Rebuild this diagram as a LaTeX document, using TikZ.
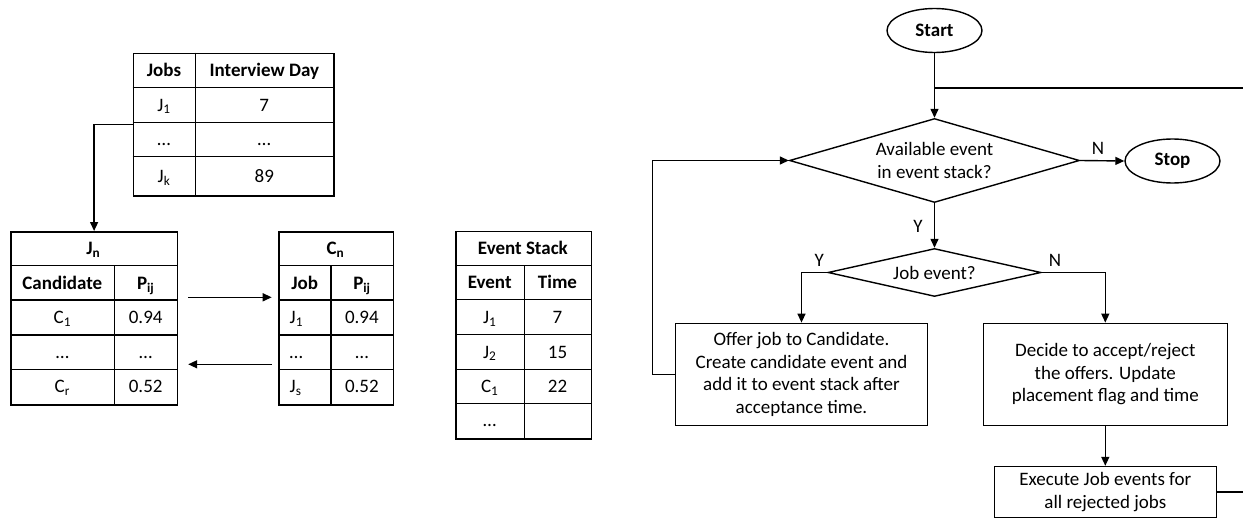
\documentclass[tikz,border=0pt]{standalone}
\usepackage{fontspec}
\setmainfont{Carlito}
\usetikzlibrary{arrows.meta,shapes.geometric,calc}
\begin{document}
\begin{tikzpicture}[x=1pt,y=-1pt,line width=1.4pt,
  tbl/.style={draw,line width=1.5pt,inner sep=0,anchor=north west},
  cell/.style={font=\fontsize{19}{22}\selectfont,inner sep=0,anchor=base},
  hd/.style={cell,font=\fontsize{19}{22}\selectfont\bfseries},
  arr/.style={-{Triangle[length=9pt,width=8pt]}},
  box/.style={draw,rectangle,align=center,font=\fontsize{19}{22.5}\selectfont,inner sep=0},
  dia/.style={draw,diamond,align=center,font=\fontsize{19}{22.5}\selectfont,inner sep=0},
  term/.style={draw,ellipse,font=\fontsize{19}{22}\selectfont\bfseries,inner sep=0,minimum width=95pt,minimum height=44pt},
  lbl/.style={font=\fontsize{19}{22}\selectfont,inner sep=0}
]
\useasboundingbox (0,0) rectangle (1243,527);

% ---------- Jobs table ----------
\node[tbl,minimum width=200.6pt,minimum height=142.3pt] (jobs) at (132.7,52.7) {};
\draw[line width=1.5pt] (195.3,52.7) -- (195.3,195)
  (132.7,87.7) -- (333.3,87.7) (132.7,122.3) -- (333.3,122.3) (132.7,156.7) -- (333.3,156.7);
\node[hd] (jh1) at (164,76.4) {Jobs};
\node[hd] (jh2) at (264.3,76.4) {Interview Day};
\node[cell] (j11) at (164,111.2) {J\textsubscript{1}};
\node[cell] (j12) at (264.3,111.2) {7};
\node[cell] (j21) at (164,145.7) {\ldots};
\node[cell] (j22) at (264.3,145.7) {\ldots};
\node[cell] (j31) at (164,182.1) {J\textsubscript{k}};
\node[cell] (j32) at (264.3,182.1) {89};

% ---------- Jn table ----------
\node[tbl,minimum width=166.7pt,minimum height=173pt] (jn) at (10,231) {};
\draw[line width=1.5pt] (114.7,265.7) -- (114.7,404)
  (10,265.7) -- (176.7,265.7) (10,300) -- (176.7,300) (10,335) -- (176.7,335) (10,369.3) -- (176.7,369.3);
\node[hd] (jnh) at (93.35,254.5) {J\textsubscript{n}};
\node[hd] (jnh1) at (62.35,289) {Candidate};
\node[hd] (jnh2) at (145.7,289) {P\textsubscript{ij}};
\node[cell] (jn11) at (62.35,323.7) {C\textsubscript{1}};
\node[cell] (jn12) at (145.7,323.7) {0.94};
\node[cell] (jn21) at (62.35,358.4) {\ldots};
\node[cell] (jn22) at (145.7,358.4) {\ldots};
\node[cell] (jn31) at (62.35,392.9) {C\textsubscript{r}};
\node[cell] (jn32) at (145.7,392.9) {0.52};

% ---------- Cn table ----------
\node[tbl,minimum width=114.4pt,minimum height=173pt] (cn) at (278.3,231) {};
\draw[line width=1.5pt] (331,265.7) -- (331,404)
  (278.3,265.7) -- (392.7,265.7) (278.3,300) -- (392.7,300) (278.3,335) -- (392.7,335) (278.3,369.3) -- (392.7,369.3);
\node[hd] (cnh) at (335.5,254.5) {C\textsubscript{n}};
\node[hd] (cnh1) at (304.7,289) {Job};
\node[hd] (cnh2) at (361.9,289) {P\textsubscript{ij}};
\node[cell,anchor=base west] (cn11) at (289,323.7) {J\textsubscript{1}};
\node[cell] (cn12) at (361.9,323.7) {0.94};
\node[cell,anchor=base west] (cn21) at (289,358.4) {\ldots};
\node[cell] (cn22) at (361.9,358.4) {\ldots};
\node[cell,anchor=base west] (cn31) at (289,392.9) {J\textsubscript{s}};
\node[cell] (cn32) at (361.9,392.9) {0.52};

% ---------- Event stack ----------
\node[tbl,minimum width=135.7pt,minimum height=207.3pt] (es) at (455,230.7) {};
\draw[line width=1.5pt] (524.3,265.3) -- (524.3,438)
  (455,265.3) -- (590.7,265.3) (455,299.7) -- (590.7,299.7) (455,334.7) -- (590.7,334.7)
  (455,369.3) -- (590.7,369.3) (455,403.3) -- (590.7,403.3);
\node[hd] (esh) at (522.9,254.2) {Event Stack};
\node[hd] (esh1) at (489.7,288.7) {Event};
\node[hd] (esh2) at (557.5,288.7) {Time};
\node[cell] (es11) at (489.7,323.4) {J\textsubscript{1}};
\node[cell] (es12) at (557.5,323.4) {7};
\node[cell] (es21) at (489.7,358.2) {J\textsubscript{2}};
\node[cell] (es22) at (557.5,358.2) {15};
\node[cell] (es31) at (489.7,392.5) {C\textsubscript{1}};
\node[cell] (es32) at (557.5,392.5) {22};
\node[cell] (es41) at (489.7,426.9) {\ldots};

% ---------- table connectors ----------
\coordinate (jy) at (0,124.7);
\draw[arr] (jobs.west |- jy) -| (jn.north);
\coordinate (a1) at (0,297.3);
\coordinate (a2) at (0,364.3);
\draw[arr,shorten <=10pt,shorten >=6.6pt] (jn.east |- a1) -- (cn.west |- a1);
\draw[arr,shorten <=6.6pt,shorten >=10pt] (cn.west |- a2) -- (jn.east |- a2);

% ---------- flowchart ----------
\node[term] (start) at (934.5,30.5) {Start};
\node[dia,aspect=3.45,minimum width=290pt,minimum height=84pt] (d1) at (934.5,160.5) {Available event\\in event stack?};
\node[term] (stop) at (1172.5,161) {Stop};
\node[dia,aspect=4.4,minimum width=213pt,minimum height=48pt] (d2) at (934.5,272.5) {Job event?};
\node[box,minimum width=252pt,minimum height=102pt] (offer) at (801.5,374.3) {Offer job to Candidate.\\Create candidate event and\\add it to event stack after\\acceptance time.};
\node[box,minimum width=244pt,minimum height=102pt] (decide) at (1105.3,374.3) {Decide to accept/reject\\the offers. Update\\placement flag and time};
\node[box,minimum width=222pt,minimum height=51pt] (exec) at (1105.3,492) {Execute Job events for\\all rejected jobs};

\draw[arr] (start) -- (d1);
\draw[arr] (d1.east) -- (stop.west);
\draw[arr] (d1) -- (d2);
\draw[arr] (d2.west) -| (offer.north);
\draw[arr] (d2.east) -| (decide.north);
\draw[arr] (decide) -- (exec);
\coordinate (lp) at (652.3,160.5);
\draw[arr] (offer.west) -| (lp) -- (d1.west);
\coordinate (rp) at (1248,88);
\coordinate (jc) at (934.5,88);
\draw (exec.east) -| (rp) -- (jc);

\node[lbl] (lN1) at (1098,148) {N};
\node[lbl] (lY1) at (918,226) {Y};
\node[lbl] (lY2) at (819.3,260.7) {Y};
\node[lbl] (lN2) at (1055,260.7) {N};
\end{tikzpicture}
\end{document}
